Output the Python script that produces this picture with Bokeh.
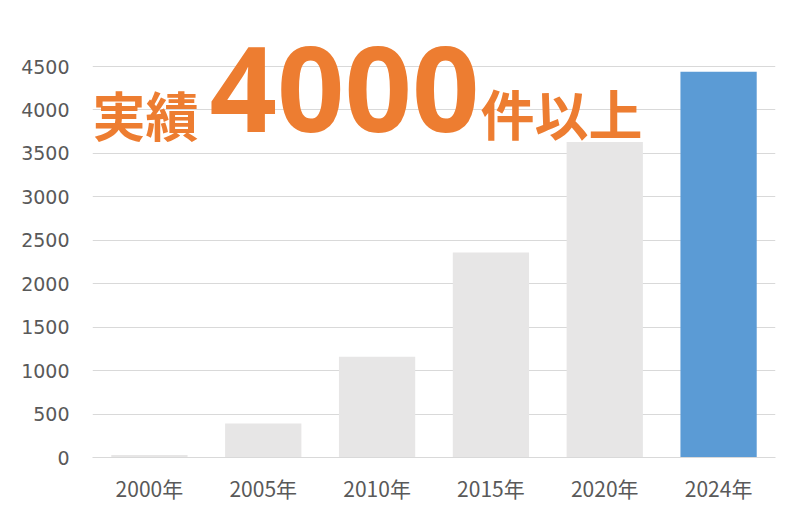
from bokeh.plotting import figure
from bokeh.models import FactorRange, Range1d, Label, ColumnDataSource, FixedTicker
from bokeh.embed import file_html
from bokeh.resources import INLINE

years = ["2000年", "2005年", "2010年", "2015年", "2020年", "2024年"]
counts = [28, 390, 1160, 2360, 3630, 4440]
bar_colors = ["#E7E6E6", "#E7E6E6", "#E7E6E6", "#E7E6E6", "#E7E6E6", "#5B9BD5"]
y_ticks = [0, 500, 1000, 1500, 2000, 2500, 3000, 3500, 4000, 4500]
headline = ["実績", "4000", "件以上"]

W, H = 800, 527
top_border, bottom_border = 30, 70
# top gridline (4500) sits 391px above the baseline; extra headroom keeps the headline unclipped
frame_h = H - top_border - bottom_border
y_end = y_ticks[-1] * frame_h / 391.0

src = ColumnDataSource(dict(x=years, top=counts, color=bar_colors))

p = figure(width=W, height=H, output_backend="svg", toolbar_location=None,
           x_range=FactorRange(*years, range_padding=0), y_range=Range1d(0, y_end),
           min_border_left=92, min_border_right=25, min_border_top=top_border,
           min_border_bottom=bottom_border)

p.vbar(x="x", top="top", width=0.67, color="color", source=src, line_color=None)

p.outline_line_color = None
p.background_fill_color = "white"
p.border_fill_color = "white"

p.xgrid.grid_line_color = None
p.ygrid.grid_line_color = "#D9D9D9"
p.ygrid.grid_line_width = 1
p.yaxis.ticker = FixedTicker(ticks=y_ticks)

p.yaxis.axis_line_color = None
p.yaxis.major_tick_line_color = None
p.yaxis.minor_tick_line_color = None
p.yaxis.major_label_standoff = 17
p.yaxis.major_label_text_font = "DejaVu Sans"
p.yaxis.major_label_text_font_size = "19px"
p.yaxis.major_label_text_color = "#595959"

p.xaxis.axis_line_color = "#D9D9D9"
p.xaxis.major_tick_line_color = None
p.xaxis.minor_tick_line_color = None
p.xaxis.major_label_standoff = 9
p.xaxis.major_label_text_font = "Noto Sans CJK JP"
p.xaxis.major_label_text_font_size = "21px"
p.xaxis.major_label_text_color = "#595959"

orange = "#ED7D31"
p.add_layout(Label(x=0, y=344, x_units="screen", y_units="screen", text=headline[0],
                   text_font="Noto Sans CJK JP", text_font_style="bold",
                   text_font_size="53px", text_color=orange, text_baseline="alphabetic"))
p.add_layout(Label(x=117, y=368, x_units="screen", y_units="screen", text=headline[1],
                   text_font="Open Sans", text_font_style="bold",
                   text_font_size="118px", text_color=orange, text_baseline="alphabetic"))
p.add_layout(Label(x=388, y=345, x_units="screen", y_units="screen", text=headline[2],
                   text_font="Noto Sans CJK JP", text_font_style="bold",
                   text_font_size="54px", text_color=orange, text_baseline="alphabetic"))

open("out.html", "w").write(file_html(p, INLINE))
